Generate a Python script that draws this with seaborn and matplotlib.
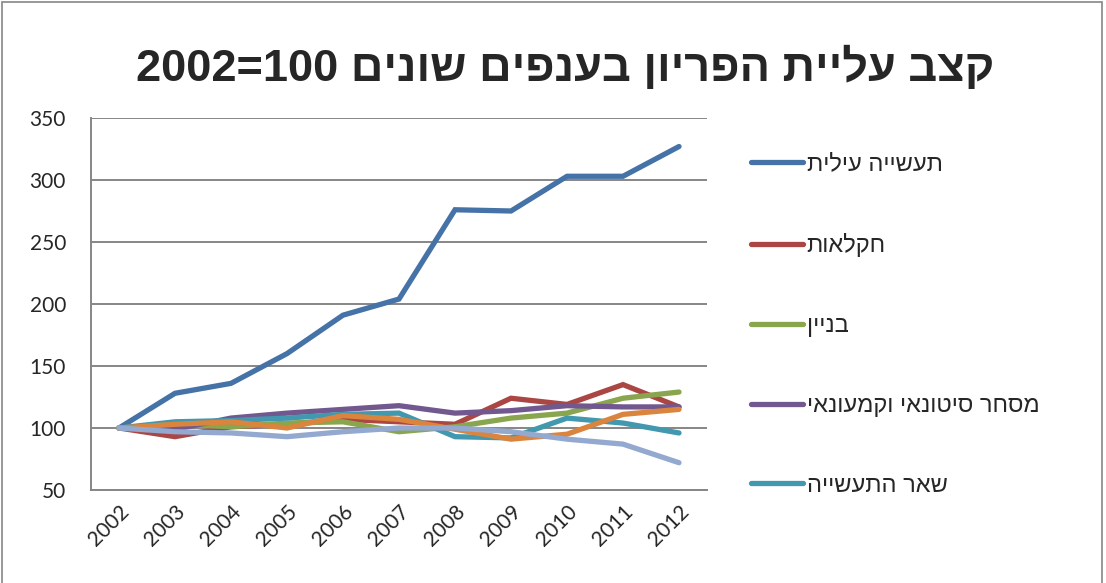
import numpy as np
import pandas as pd
import seaborn as sns
import matplotlib
matplotlib.use('Agg')
import matplotlib.pyplot as plt
from matplotlib.lines import Line2D
from matplotlib.patches import Rectangle

years = ['2002', '2003', '2004', '2005', '2006', '2007', '2008', '2009', '2010', '2011', '2012']

high_tech = [100, 128, 136, 160, 191, 204, 276, 275, 303, 303, 327]
agriculture = [100, 93, 101, 103, 107, 105, 103, 124, 119, 135, 117]
construction = [100, 103, 101, 104, 105, 97, 101, 108, 112, 124, 129]
trade = [100, 99, 108, 112, 115, 118, 112, 114, 118, 117, 117]
other_industry = [100, 105, 106, 108, 111, 112, 93, 92, 108, 104, 96]
series_6 = [100, 103, 105, 100, 110, 107, 99, 91, 95, 111, 115]
series_7 = [100, 97, 96, 93, 97, 100, 100, 97, 91, 87, 72]

# legend only shows the first five (Excel cut it off)
names = ['תעשייה עילית', 'חקלאות', 'בניין', 'מסחר סיטונאי וקמעונאי', 'שאר התעשייה', 'series6', 'series7']
values = [high_tech, agriculture, construction, trade, other_industry, series_6, series_7]
colors = ['#4572A7', '#AA4643', '#89A54E', '#71588F', '#4198AF', '#DB843D', '#93A9CF']

title_heb = 'קצב עליית הפריון בענפים שונים'
title_num = '2002=100'


def rtl(s):
    # matplotlib has no bidi, so draw hebrew in visual order
    return s[::-1]


rows = []
for name, vals in zip(names, values):
    for i, v in enumerate(vals):
        rows.append({'series': name, 'pos': i, 'value': v})
df = pd.DataFrame(rows)

sns.set_style('white')
plt.rcParams['font.family'] = ['Liberation Sans', 'DejaVu Sans']

fig = plt.figure(figsize=(11.06, 5.83), dpi=100)
ax = fig.add_axes([91 / 1106, 1 - 490 / 583, (707 - 91) / 1106, (490 - 118) / 583])

sns.lineplot(data=df, x='pos', y='value', hue='series', hue_order=names,
             palette=colors, lw=3.8, legend=False, ax=ax,
             solid_capstyle='round', solid_joinstyle='miter')

ax.set_xlim(-0.5, 10.5)
ax.set_ylim(50, 350)
ax.set_yticks(np.arange(50, 351, 50))
ax.yaxis.grid(True, color='#868686', lw=1.4)
ax.set_axisbelow(True)
ax.set_xlabel('')
ax.set_ylabel('')

ax.set_xticks(np.arange(-0.5, 11, 1))
ax.set_xticklabels([])
ax.set_xticks(np.arange(0, 11), minor=True)
ax.set_xticklabels(years, minor=True, rotation=45, ha='right', va='top',
                   rotation_mode='anchor', fontsize=15, family='Lato')
ax.tick_params(axis='x', which='minor', length=0, pad=8)
ax.tick_params(axis='x', which='major', length=6, width=1.2, color='#868686', direction='out')
ax.tick_params(axis='y', length=6, width=1.2, color='#868686', direction='out', pad=12)
for lab in ax.get_yticklabels():
    lab.set_fontsize(15)
    lab.set_family('Lato')

for side in ['top', 'right']:
    ax.spines[side].set_visible(False)
for side in ['left', 'bottom']:
    ax.spines[side].set_color('#868686')
    ax.spines[side].set_linewidth(1.4)

handles = [Line2D([0], [0], color=c, lw=3.8, solid_capstyle='round') for c in colors[:5]]
ax.legend(handles, [rtl(n) for n in names[:5]], loc='upper left',
          bbox_to_anchor=(730 / 1106, 1 - 132 / 583), bbox_transform=fig.transFigure,
          frameon=False, fontsize=17, handlelength=2.2, handletextpad=0.15,
          labelspacing=2.45)

fig.text(565 / 1106, 1 - 68 / 583, title_num + ' ' + rtl(title_heb),
         ha='center', va='center', fontsize=32.5, fontweight='bold')

fig.patches.append(Rectangle((2 / 1106, -0.1), 1100 / 1106, 1.1 - 2 / 583,
                             transform=fig.transFigure, fill=False,
                             edgecolor='#868686', lw=1.2))

fig.savefig('out.png', dpi=100)
